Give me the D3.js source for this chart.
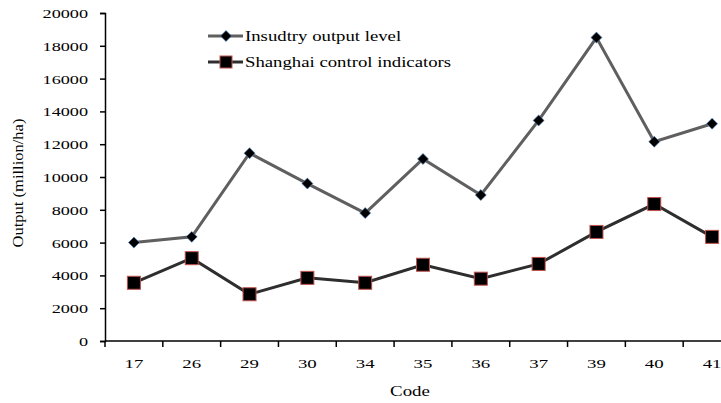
<!DOCTYPE html>
<html>
<head>
<meta charset="utf-8">
<script src="https://cdn.jsdelivr.net/npm/d3@7"></script>
<style>
  body { margin: 0; background: #fff; }
  text { font-family: "Liberation Serif", "DejaVu Serif", serif; fill: #000; }
</style>
</head>
<body>
<svg id="chart" width="721" height="403"></svg>
<script>
var codes = ['17', '26', '29', '30', '34', '35', '36', '37', '39', '40', '41']
var industryOutput = [6000, 6350, 11450, 9600, 7800, 11100, 8900, 13450, 18500, 12150, 13250]
var shanghaiControl = [3550, 5050, 2850, 3850, 3550, 4650, 3800, 4700, 6650, 8350, 6350]
var yTicks = [0, 2000, 4000, 6000, 8000, 10000, 12000, 14000, 16000, 18000, 20000]

var svg = d3.select('#chart')
// note: `top` is taken by window.top, so use a margin object
var M = { left: 105, top: 13, bottom: 341, right: 741 }

var x = d3.scaleBand().domain(codes).range([M.left, M.right])
var y = d3.scaleLinear().domain([0, 20000]).range([M.bottom, M.top])

// the original text is a stretched Times face, so widen it a bit
function wideText(sel, tx, ty, sx, size) {
  return sel
    .attr('x', 0)
    .attr('y', 0)
    .attr('font-size', size)
    .attr('transform', `translate(${tx},${ty}) scale(${sx},1)`)
}

// y axis
var yAxis = svg.append('g')
  .attr('transform', `translate(${M.left},0)`)
  .call(d3.axisLeft(y).tickValues(yTicks).tickFormat(d3.format('d')).tickSize(5).tickPadding(12))
yAxis.select('.domain').attr('stroke', '#000').attr('stroke-width', 1.5)
yAxis.selectAll('.tick line').attr('stroke', '#000').attr('stroke-width', 1.5)
yAxis.selectAll('.tick text')
  .attr('font-family', '"Liberation Serif", serif')
  .attr('fill', '#000')
  .attr('dy', '0.34em')
  .each(function () {
    wideText(d3.select(this), -17, 0, 1.4, 13)
  })

// x axis with ticks on band edges
var xg = svg.append('g').attr('transform', `translate(0,${M.bottom})`)
xg.append('line').attr('x1', M.left).attr('x2', M.right).attr('stroke', '#000').attr('stroke-width', 1.5)
xg.selectAll('.edge')
  .data(codes)
  .enter()
  .append('line')
  .attr('x1', (d) => x(d))
  .attr('x2', (d) => x(d))
  .attr('y1', 0)
  .attr('y2', 6)
  .attr('stroke', '#000')
  .attr('stroke-width', 1.5)
xg.selectAll('.lbl')
  .data(codes)
  .enter()
  .append('text')
  .attr('text-anchor', 'middle')
  .text((d) => d)
  .each(function (d) {
    wideText(d3.select(this), x(d) + x.bandwidth() / 2, 27, 1.45, 13)
  })

// axis titles
wideText(svg.append('text'), 410, 396, 1.35, 14)
  .attr('text-anchor', 'middle')
  .text('Code')
svg.append('text')
  .attr('transform', 'translate(23,183) rotate(-90) scale(1.18,1)')
  .attr('text-anchor', 'middle')
  .attr('font-size', 14)
  .text('Output (million/ha)')

var cx = (d, i) => x(codes[i]) + x.bandwidth() / 2
var line = d3.line().x((d, i) => cx(d, i)).y((d) => y(d))

// series lines
svg.append('path').datum(industryOutput)
  .attr('fill', 'none').attr('stroke', '#5f5f5f').attr('stroke-width', 3)
  .attr('d', line)
svg.append('path').datum(shanghaiControl)
  .attr('fill', 'none').attr('stroke', '#2e2e2e').attr('stroke-width', 3)
  .attr('d', line)

// square turned 45 degrees
var diamond = d3.symbol().type(d3.symbolSquare).size(60)

svg.selectAll('.dia')
  .data(industryOutput)
  .enter()
  .append('path')
  .attr('d', diamond)
  .attr('transform', (d, i) => `translate(${cx(d, i)},${y(d)}) rotate(45)`)
  .attr('fill', '#000')
  .attr('stroke', '#4f81bd')
  .attr('stroke-width', 0.6)

svg.selectAll('.sq')
  .data(shanghaiControl)
  .enter()
  .append('rect')
  .attr('x', (d, i) => cx(d, i) - 6.5)
  .attr('y', (d) => y(d) - 6.5)
  .attr('width', 13)
  .attr('height', 13)
  .attr('fill', '#000')
  .attr('stroke', '#c0504d')
  .attr('stroke-width', 1)

// legend
var legend = svg.append('g')
legend.append('line').attr('x1', 208).attr('x2', 243).attr('y1', 36).attr('y2', 36)
  .attr('stroke', '#5f5f5f').attr('stroke-width', 3)
legend.append('path').attr('d', diamond).attr('transform', 'translate(226,36) rotate(45)')
  .attr('fill', '#000').attr('stroke', '#4f81bd').attr('stroke-width', 0.6)
wideText(legend.append('text'), 245, 41, 1.25, 15).text('Insudtry output level')

legend.append('line').attr('x1', 208).attr('x2', 243).attr('y1', 62).attr('y2', 62)
  .attr('stroke', '#2e2e2e').attr('stroke-width', 3)
legend.append('rect').attr('x', 220).attr('y', 56).attr('width', 12).attr('height', 12)
  .attr('fill', '#000').attr('stroke', '#c0504d').attr('stroke-width', 1)
wideText(legend.append('text'), 245, 67, 1.25, 15).text('Shanghai control indicators')
</script>
</body>
</html>
